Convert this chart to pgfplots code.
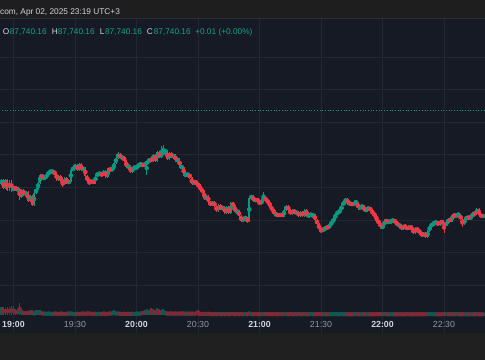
\documentclass[border=0pt]{standalone}
\usepackage{fontspec}
\setmainfont{Liberation Sans}
\usepackage{pgfplots}
\usepackage{pgfplotstable}
\pgfplotsset{compat=1.18}
\definecolor{bgc}{HTML}{161A25}
\definecolor{hdr}{HTML}{1E1E1E}
\definecolor{bot}{HTML}{202020}
\definecolor{gridc}{HTML}{232734}
\definecolor{sepc}{HTML}{2A2E39}
\definecolor{upc}{HTML}{089981}
\definecolor{dnc}{HTML}{F23645}
\definecolor{txt}{HTML}{D1D4DC}
\definecolor{txt2}{HTML}{9598A1}
\definecolor{valc}{HTML}{14A389}

% t = minutes after 19:00; o h l c = price rows (screen units, larger = lower); v = volume (px)
\pgfplotstableread{
t o h l c v
-6 184 179 185 180 8
-5 180 179 189 188 8
-4 188 179 189 180 7
-3 180 179 191 190 8
-2 190 180 191 181 8
-1 181 180 192 190 9
0 190 187 191 188 9
1 188 186 190 189 6
2 189 188 191 189 6
3 189 188 200 197 12
4 197 189 198 190 5
5 190 189 196 195 4
6 195 191 196 192 4
7 192 191 202 201 4
8 201 195 202 196 5
9 196 195 206 205 5
10 205 192 206 193 3
11 193 188 194 189 5
12 189 181 190 183 5
13 183 174 184 175 5
14 175 174 179 178 3
15 178 176 180 178 3
16 178 174 179 175 2.5
17 175 171 176 172 3
18 172 170 173 172 2.5
19 172 169 174 172 2
20 172 171 175 173 3
21 173 172 181 180 2.5
22 180 175 181 176 2
23 176 175 182 181 3
24 181 180 187 184 2.5
25 184 177 185 178 2
26 178 177 184 183 2.5
27 183 180 184 181 3
28 181 169 182 170 3
29 170 167 171 168 2.5
30 168 164 169 165 2
31 165 164 171 170 2.5
32 170 163 171 164 2
33 164 163 171 170 2.5
34 170 167 171 168 3
35 168 167 177 176 2.5
36 176 175 182 181 3
37 181 180 185 182 3
38 182 180 183 181 2.5
39 181 180 184 183 2
40 183 174 184 175 2.5
41 175 173 176 174 2
42 174 172 175 174 2.5
43 174 173 176 175 2
44 175 170 176 171 3
45 171 170 178 177 2
46 177 168 178 169 2.5
47 169 168 171 170 3
48 170 167 171 169 3
49 169 162 170 163 5
50 163 157 164 158 3
51 158 152 159 154 3
52 154 153 159 158 2.5
53 158 156 159 157 2
54 157 156 162 161 2.5
55 161 160 168 167 2
56 167 165 168 166 2.5
57 166 165 173 172 2
58 172 167 173 168 2.5
59 168 166 169 168 2
60 168 166 169 167 3
61 167 163 168 164 2.5
62 164 163 166 164 3
63 164 163 167 166 4
64 166 162 167 163 5
65 163 161 175 163 6
66 163 158 164 159 5
67 159 158 162 161 7
68 161 154 162 155 6
69 155 154 162 161 5
70 161 151 162 152 7
71 152 151 158 157 6
72 157 146 158 154 5
73 154 145 155 152 6
74 152 149 153 151 4
75 151 150 160 159 3
76 159 152 160 153 3
77 153 152 158 157 3
78 157 154 158 155 2.5
79 155 154 162 161 3
80 161 158 162 159 2.5
81 159 158 168 167 3
82 167 165 169 167 3
83 167 166 176 175 3
84 175 173 176 175 2.5
85 175 173 177 174 3
86 174 173 179 178 2.5
87 178 177 185 184 3
88 184 180 185 181 2.5
89 181 180 185 184 3
90 184 183 187 185 5
91 185 184 191 190 2
92 190 189 192 191 2.5
93 191 190 200 199 2
94 199 195 200 196 2
95 196 195 203 202 2.5
96 202 201 206 205 2
97 205 201 206 202 1.5
98 202 201 207 206 2
99 206 205 212 211 1.5
100 211 204 212 205 2
101 205 204 210 209 1.5
102 209 206 210 207 2
103 207 206 214 213 1.5
104 213 206 214 207 2
105 207 206 214 213 1.5
106 213 202 214 203 2
107 203 202 207 206 2
108 206 205 213 212 1.5
109 212 210 213 211 2
110 211 210 217 216 1.5
111 216 215 222 221 2
112 221 217 222 218 1.5
113 218 216 220 218 2
114 218 217 223 221 1.5
115 221 197 222 198 3
116 198 195 199 196 2
117 196 195 202 201 1.5
118 201 198 202 199 2
119 199 198 202 201 1.5
120 201 200 205 204 2
121 204 199 205 200 1.5
122 200 192 201 197 2
123 197 196 202 201 2
124 201 200 203 202 2
125 202 201 208 207 2
126 207 206 211 210 1.5
127 210 209 215 214 2
128 214 213 216 214 1.5
129 214 213 217 216 1.5
130 216 213 217 214 2
131 214 213 217 216 1.5
132 216 209 217 210 2
133 210 205 211 206 1.5
134 206 205 211 210 1.5
135 210 209 215 214 2
136 214 209 215 210 1.5
137 210 209 214 213 1.5
138 213 211 214 212 1.5
139 212 211 217 216 2
140 216 211 217 212 1.5
141 212 211 217 216 1.5
142 216 209 217 210 1.5
143 210 209 217 216 1.5
144 216 214 217 215 1.5
145 215 213 216 215 2
146 215 214 217 215 1.5
147 215 214 221 220 1.5
148 220 219 225 224 2
149 224 223 230 229 2
150 229 228 233 230 2
151 230 228 231 230 1.5
152 230 226 231 227 1.5
153 227 226 229 228 1.5
154 228 224 229 225 1.5
155 225 221 226 222 2
156 222 218 223 219 1.5
157 219 213 220 214 2
158 214 211 215 212 1.5
159 212 210 213 211 1.5
160 211 204 212 205 2
161 205 201 206 202 1.5
162 202 198 203 199 2
163 199 198 205 204 1.5
164 204 202 205 203 1.5
165 203 202 206 205 1.5
166 205 202 206 203 1.5
167 203 200 204 203 2
168 203 202 210 208 1.5
169 208 206 209 207 1.5
170 207 205 208 206 1.5
171 206 205 212 211 1.5
172 211 208 212 209 1.5
173 209 207 210 208 1.5
174 208 207 211 210 1.5
175 210 209 215 214 1.5
176 214 213 216 215 1.5
177 215 214 222 221 2
178 221 220 224 222 1.5
179 222 221 229 228 2
180 228 225 229 226 1.5
181 226 219 227 220 2
182 220 219 223 222 1.5
183 222 220 223 222 1.5
184 222 220 223 221 1.5
185 221 219 222 220 1.5
186 220 219 223 222 1.5
187 222 221 226 225 1.5
188 225 224 226 225 1.5
189 225 224 230 229 1.5
190 229 225 230 226 1.5
191 226 225 228 227 1.5
192 227 226 230 229 2
193 229 225 230 226 1.5
194 226 225 230 229 1.5
195 229 228 234 233 1.5
196 233 227 234 228 1.5
197 228 227 232 231 1.5
198 231 230 233 232 1.5
199 232 231 237 236 1.5
200 236 232 237 233 1.5
201 233 232 238 237 1.5
202 237 230 238 231 1.5
203 231 225 232 226 2
204 226 223 227 224 2
205 224 222 225 223 1.5
206 223 221 224 222 1.5
207 222 221 226 225 1.5
208 225 220 226 221 1.5
209 221 220 224 223 1.5
210 223 222 233 225 2
211 225 222 226 223 2
212 223 218 224 219 1.5
213 219 218 222 221 1.5
214 221 214 222 215 1.5
215 215 214 217 216 1.5
216 216 214 217 215 2
217 215 213 216 215 1.5
218 215 214 220 219 1.5
219 219 218 227 224 1.5
220 224 218 225 219 1.5
221 219 216 220 217 1.5
222 217 216 219 218 1.5
223 218 216 219 217 1.5
224 217 212 218 213 1.5
225 213 212 215 214 1.5
226 214 208 215 209 2
227 209 208 216 215 1.5
228 215 214 217 216 1.5
229 216 215 217 216 1.5
}\candles

\begin{document}
\begin{tikzpicture}
\begin{axis}[at={(0,0)}, anchor=south west,
  width=485bp, height=360bp, scale only axis,
  xmin=-6.585, xmax=230, ymin=0, ymax=360, y dir=reverse,
  axis line style={draw=none}, major tick length=0pt,
  xtick={0,30,...,210},
  ytick={57,89.6,122.2,154.8,187.4,220,252.6,285.2},
  xticklabel=\empty, yticklabel=\empty,
  grid=major, major grid style={draw=gridc, line width=0.7bp},
  axis background/.style={fill=bgc},
  clip=true]
% volume
\addplot[only marks, mark=none, color=upc!50!bgc, forget plot,
  restrict expr to domain={\thisrow{o}-\thisrow{c}}{0:1000},
  error bars/.cd, y dir=both, y explicit, error mark=none,
  error bar style={draw=upc!50!bgc, line width=1.6bp}]
  table[x=t, y expr={315-\thisrow{v}/2}, y error expr={\thisrow{v}/2}] {\candles};
\addplot[only marks, mark=none, color=dnc!50!bgc, forget plot,
  restrict expr to domain={\thisrow{o}-\thisrow{c}}{-1000:-0.01},
  error bars/.cd, y dir=both, y explicit, error mark=none,
  error bar style={draw=dnc!50!bgc, line width=1.6bp}]
  table[x=t, y expr={315-\thisrow{v}/2}, y error expr={\thisrow{v}/2}] {\candles};
% dotted price line
\addplot[upc, dotted, line width=0.7bp, forget plot] coordinates {(-7,110) (231,110)};
% wicks
\addplot[only marks, mark=none, color=upc, forget plot,
  restrict expr to domain={\thisrow{o}-\thisrow{c}}{0:1000},
  error bars/.cd, y dir=both, y explicit, error mark=none,
  error bar style={draw=upc, line width=0.7bp}]
  table[x=t, y expr={(\thisrow{h}+\thisrow{l})/2}, y error expr={(\thisrow{l}-\thisrow{h})/2}] {\candles};
\addplot[only marks, mark=none, color=dnc, forget plot,
  restrict expr to domain={\thisrow{o}-\thisrow{c}}{-1000:-0.01},
  error bars/.cd, y dir=both, y explicit, error mark=none,
  error bar style={draw=dnc, line width=0.7bp}]
  table[x=t, y expr={(\thisrow{h}+\thisrow{l})/2}, y error expr={(\thisrow{l}-\thisrow{h})/2}] {\candles};
% bodies
\addplot[only marks, mark=none, color=upc, forget plot,
  restrict expr to domain={\thisrow{o}-\thisrow{c}}{0:1000},
  error bars/.cd, y dir=both, y explicit, error mark=none,
  error bar style={draw=upc, line width=1.8bp}]
  table[x=t, y expr={(\thisrow{o}+\thisrow{c})/2}, y error expr={abs(\thisrow{o}-\thisrow{c})/2+0.3}] {\candles};
\addplot[only marks, mark=none, color=dnc, forget plot,
  restrict expr to domain={\thisrow{o}-\thisrow{c}}{-1000:-0.01},
  error bars/.cd, y dir=both, y explicit, error mark=none,
  error bar style={draw=dnc, line width=1.8bp}]
  table[x=t, y expr={(\thisrow{o}+\thisrow{c})/2}, y error expr={abs(\thisrow{o}-\thisrow{c})/2+0.3}] {\candles};
\end{axis}
% header bar and bottom strip
\fill[hdr] (0,341.5bp) rectangle (485bp,360bp);
\draw[sepc, line width=0.8bp] (0,341.2bp) -- (485bp,341.2bp);
\fill[bot] (0,0) rectangle (485bp,27bp);
% header texts
\begin{scope}[every node/.style={inner sep=0pt, anchor=base west, font=\fontsize{8.3bp}{10bp}\selectfont}]
\node[text=txt] at (0,345.8bp) {com, Apr 02, 2025 23:19 UTC+3};
\node[text=txt] at (2.6bp,325.6bp) {O};
\node[text=valc] at (9.6bp,325.6bp) {87,740.16};
\node[text=txt] at (51.6bp,325.6bp) {H};
\node[text=valc] at (57.6bp,325.6bp) {87,740.16};
\node[text=txt] at (99.6bp,325.6bp) {L};
\node[text=valc] at (104.8bp,325.6bp) {87,740.16};
\node[text=txt] at (146.6bp,325.6bp) {C};
\node[text=valc] at (153.6bp,325.6bp) {87,740.16};
\node[text=valc] at (195bp,325.6bp) {+0.01 (+0.00\%)};
\end{scope}
% time labels
\begin{scope}[every node/.style={inner sep=0pt, anchor=base, font=\fontsize{8.8bp}{10bp}\selectfont}]
\node[text=txt, font=\fontsize{8.8bp}{10bp}\selectfont\bfseries] at (13.5bp,32.4bp) {19:00};
\node[text=txt2] at (75bp,32.4bp) {19:30};
\node[text=txt, font=\fontsize{8.8bp}{10bp}\selectfont\bfseries] at (136.5bp,32.4bp) {20:00};
\node[text=txt2] at (198bp,32.4bp) {20:30};
\node[text=txt, font=\fontsize{8.8bp}{10bp}\selectfont\bfseries] at (259.5bp,32.4bp) {21:00};
\node[text=txt2] at (321bp,32.4bp) {21:30};
\node[text=txt, font=\fontsize{8.8bp}{10bp}\selectfont\bfseries] at (382.5bp,32.4bp) {22:00};
\node[text=txt2] at (444bp,32.4bp) {22:30};
\end{scope}
\pgfresetboundingbox
\useasboundingbox (0,0) rectangle (485bp,360bp);
\end{tikzpicture}
\end{document}
